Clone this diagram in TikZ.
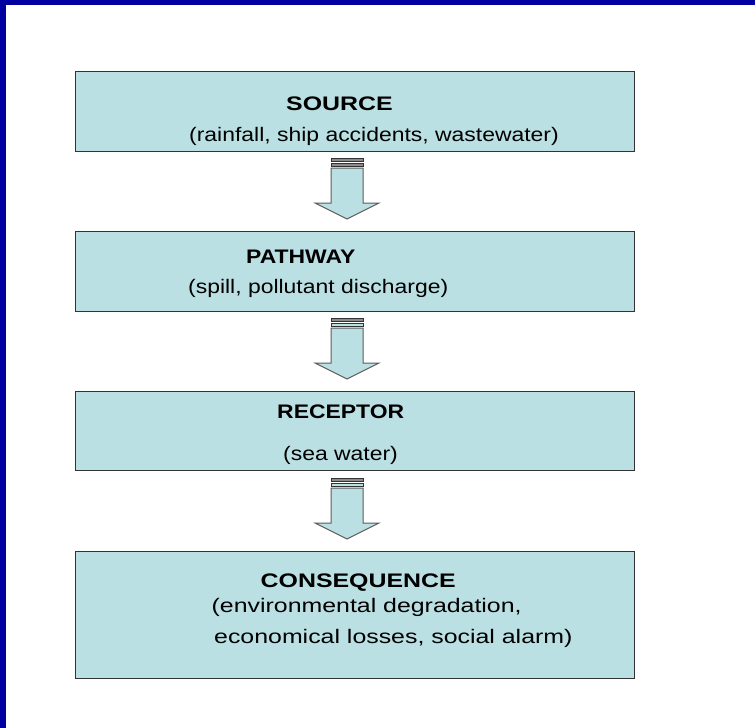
\documentclass[tikz,border=0pt]{standalone}
\usepackage{fontspec}
\usepackage{graphicx}
\setmainfont{Liberation Sans}
\definecolor{boxfill}{HTML}{BBE0E3}
\definecolor{boxline}{HTML}{333333}
\definecolor{frameblue}{RGB}{0,0,160}
\definecolor{bargray}{HTML}{8C8C8C}
\newcommand{\wideA}[1]{\scalebox{1.17}[1]{#1}}
\newcommand{\wideB}[1]{\scalebox{1.27}[1]{#1}}
\tikzset{
  stagebox/.style={draw=boxline, line width=1.2pt, fill=boxfill, inner sep=0pt},
  blockarrow/.style={draw=boxline!80, line width=1pt, fill=boxfill, line join=miter},
  barstrip/.style={draw=boxline, line width=0.8pt},
  txt/.style={anchor=base west, inner sep=0pt, font=\fontsize{19.6}{24}\selectfont},
  ttl/.style={txt, font=\fontsize{19.6}{24}\selectfont\bfseries}
}
\begin{document}
\begin{tikzpicture}[x=1pt,y=-1pt]
\useasboundingbox (0,0) rectangle (755,728);
\fill[white] (0,0) rectangle (755,728);
% frame
\fill[frameblue] (0,0) rectangle (755,5);
\fill[frameblue] (0,0) rectangle (6,728);
% boxes
\node[stagebox, minimum width=559pt, minimum height=80pt, anchor=north west] (source) at (75,71) {};
\node[stagebox, minimum width=559pt, minimum height=80pt, anchor=north west] (pathway) at (75,231) {};
\node[stagebox, minimum width=559pt, minimum height=79pt, anchor=north west] (receptor) at (75,391) {};
\node[stagebox, minimum width=559pt, minimum height=127pt, anchor=north west] (consequence) at (75,551) {};
% arrows
\foreach \dy/\bc in {0/bargray,160/boxfill,320/boxfill}{
  \begin{scope}[yshift=-\dy pt]
    \draw[barstrip, fill=bargray] (331,158) rectangle (363,161.5);
    \draw[barstrip, fill=\bc] (331,163) rectangle (363,166);
    \draw[blockarrow] (331,168) -- (363,168) -- (363,203) -- (379,203) -- (347,219) -- (315,203) -- (331,203) -- cycle;
  \end{scope}
}
% texts
\node[ttl] (t1) at (286,110) {\wideB{SOURCE}};
\node[txt] (s1) at (189,141) {\wideA{(rainfall, ship accidents, wastewater)}};
\node[ttl] (t2) at (246,263) {\wideA{PATHWAY}};
\node[txt] (s2) at (188,293) {\wideA{(spill, pollutant discharge)}};
\node[ttl] (t3) at (277,418) {\wideA{RECEPTOR}};
\node[txt] (s3) at (283,460) {\wideA{(sea water)}};
\node[ttl] (t4) at (260.5,587) {\wideB{CONSEQUENCE}};
\node[txt] (s4) at (211.5,612) {\wideB{(environmental degradation,}};
\node[txt] (s5) at (214,643) {\wideB{economical losses, social alarm)}};
\end{tikzpicture}
\end{document}
